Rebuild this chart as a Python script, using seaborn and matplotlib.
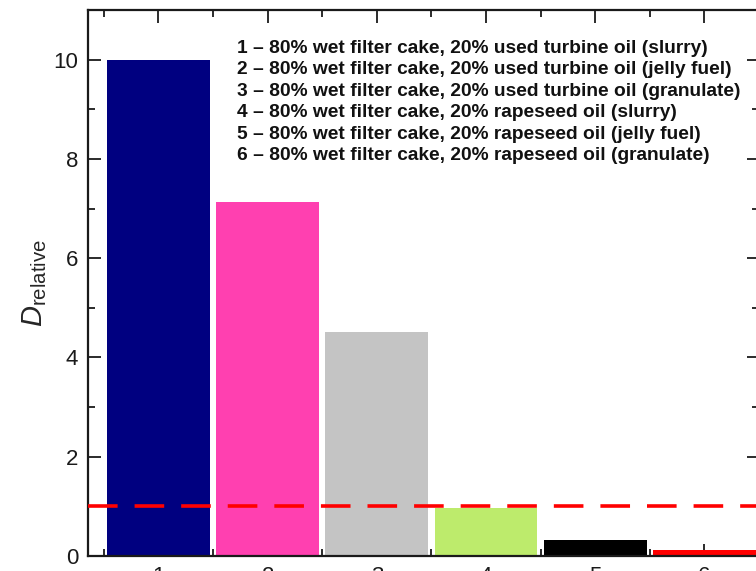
import matplotlib
matplotlib.use("Agg")
import matplotlib.pyplot as plt
import seaborn as sns
import pandas as pd
from matplotlib.ticker import MultipleLocator

# data
samples = ["1", "2", "3", "4", "5", "6"]
d_relative = [10.0, 7.14, 4.51, 0.97, 0.32, 0.12]
bar_colors = ["#000080", "#FF40B0", "#C4C4C4", "#BDEB6C", "#000000", "#FF0000"]
legend_lines = [
    "1 – 80% wet filter cake, 20% used turbine oil (slurry)",
    "2 – 80% wet filter cake, 20% used turbine oil (jelly fuel)",
    "3 – 80% wet filter cake, 20% used turbine oil (granulate)",
    "4 – 80% wet filter cake, 20% rapeseed oil (slurry)",
    "5 – 80% wet filter cake, 20% rapeseed oil (jelly fuel)",
    "6 – 80% wet filter cake, 20% rapeseed oil (granulate)",
]
reference_level = 1.0

sns.set_theme(style="ticks")
plt.rcParams["font.family"] = ["Liberation Sans", "DejaVu Sans"]
plt.rcParams["mathtext.fontset"] = "custom"
plt.rcParams["mathtext.rm"] = "Liberation Sans"
plt.rcParams["mathtext.it"] = "Liberation Sans:italic"

df = pd.DataFrame({"sample": samples, "D": d_relative})

fig = plt.figure(figsize=(7.56, 5.71), dpi=100)
ax = fig.add_axes([88 / 756, 1 - 556 / 571, (759 - 88) / 756, (556 - 10) / 571])

sns.barplot(data=df, x="sample", y="D", hue="sample", palette=bar_colors,
            width=0.94, saturation=1, legend=False, ax=ax, linewidth=0)

ax.axhline(reference_level, color="#FF0000", lw=2.6, ls=(0, (8.2, 4.7)), zorder=5)

ax.set_xlim(-0.645, 5.43)
ax.set_ylim(0, 11)
ax.yaxis.set_major_locator(MultipleLocator(2))
ax.yaxis.set_minor_locator(MultipleLocator(1))
ax.set_xticks(range(len(samples)))
ax.set_xticks([i + 0.5 for i in range(-1, len(samples))], minor=True)
ax.set_xticklabels(samples)
ax.tick_params(which="both", direction="in", top=True, right=True, width=1.3,
               labelsize=16, color="#1a1a1a", labelcolor="#1a1a1a", pad=7)
ax.tick_params(which="major", length=9)
ax.tick_params(which="minor", length=5)
for s in ax.spines.values():
    s.set_linewidth(1.6)
    s.set_color("#1a1a1a")

ax.set_xlabel("")
ax.set_ylabel(r"$\mathit{D}_{\mathrm{relative}}$", fontsize=21, labelpad=3)

# legend block: text lines placed in pixel coordinates (baseline)
for i, line in enumerate(legend_lines):
    ax.text(237, 571 - 53 - 21.4 * i, line, transform=None, fontsize=13.8,
            fontweight="bold", va="baseline", ha="left", color="#111111")

fig.savefig("out.png", dpi=100)
